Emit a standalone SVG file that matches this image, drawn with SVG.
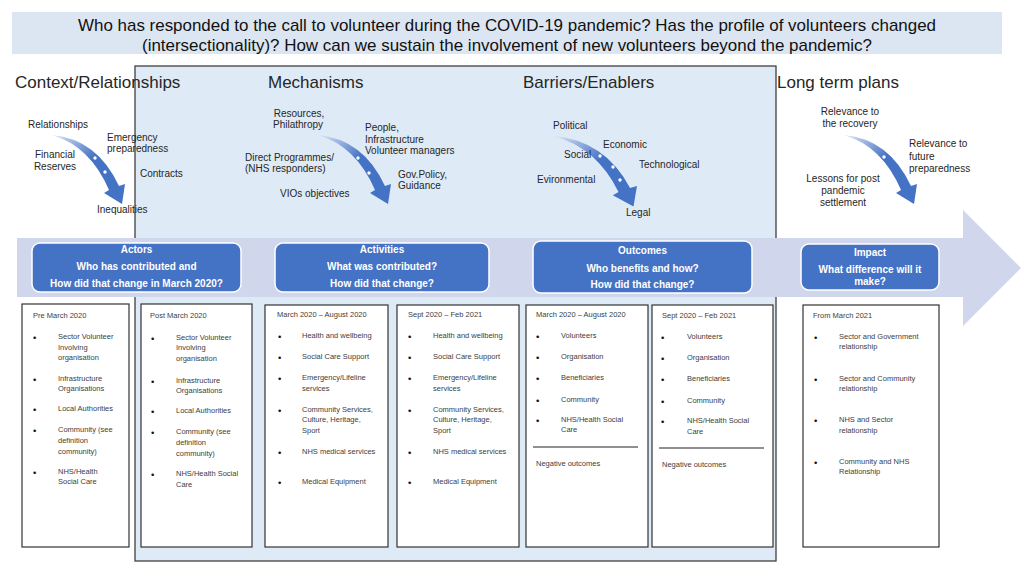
<svg xmlns="http://www.w3.org/2000/svg" xmlns:xlink="http://www.w3.org/1999/xlink" width="1024" height="572" viewBox="0 0 1024 572">
<style>
.h{font-family:"Liberation Sans",Arial,sans-serif;font-size:17px;fill:#262626}
.t{font-family:"Liberation Sans Narrow","Liberation Sans",Arial,sans-serif;font-size:17px;fill:#111;text-anchor:middle}
.l{font-family:"Liberation Sans",Arial,sans-serif;font-size:10px;fill:#262626}
.c{text-anchor:middle}
.b{font-family:"Liberation Sans",Arial,sans-serif;font-size:10px;font-weight:bold;fill:#fff;text-anchor:middle}
.s{font-family:"Liberation Sans",Arial,sans-serif;font-size:7.5px;fill:#404040}
.d{font-family:"Liberation Sans",Arial,sans-serif;font-size:9.5px;fill:#111}
.box{fill:#fff;stroke:#333;stroke-width:1.2}
.bb{fill:#4472C4;stroke:#fff;stroke-width:1.5}
.dot{fill:#fff}
</style>
<defs>
<linearGradient id="ag" x1="0" y1="0" x2="1" y2="1">
<stop offset="0" stop-color="#dfe7f6"/>
<stop offset="0.45" stop-color="#4472C4"/>
<stop offset="1" stop-color="#4472C4"/>
</linearGradient>
<path id="carrow" d="M0,0 Q45,4 67,51 L73,49 L70,69 L52,58 L57,55 Q38,11 0,0 Z" fill="url(#ag)"/>
</defs>

<g id="title">
<rect x="12" y="12" width="990" height="42" fill="#DCE6F2"/>
<text class="t" x="507" y="31" textLength="858" lengthAdjust="spacingAndGlyphs">Who has responded to the call to volunteer during the COVID-19 pandemic? Has the profile of volunteers changed</text>
<text class="t" x="507" y="51" textLength="730" lengthAdjust="spacingAndGlyphs">(intersectionality)? How can we sustain the involvement of new volunteers beyond the pandemic?</text>
</g>

<g id="panel">
<rect x="135" y="66" width="641" height="495" fill="#DEEAF6" stroke="#404040" stroke-width="1.3"/>
</g>

<g id="timeline">
<path d="M17,238 H963 V210 L1021,268 L963,326 V297 H17 Z" fill="#D0D6EB"/>
</g>

<g id="headings">
<text class="h" x="15" y="88">Context/Relationships</text>
<text class="h" x="268" y="88">Mechanisms</text>
<text class="h" x="523" y="88">Barriers/Enablers</text>
<text class="h" x="777" y="88">Long term plans</text>
</g>

<g id="connectors">
<use xlink:href="#carrow" href="#carrow" transform="translate(52,135)"/>
<circle class="dot" cx="95" cy="158" r="1.7"/><circle class="dot" cx="105" cy="172" r="1.7"/>
<use xlink:href="#carrow" href="#carrow" transform="translate(318,135)"/>
<circle class="dot" cx="358" cy="158" r="1.7"/><circle class="dot" cx="369" cy="173" r="1.7"/>
<use xlink:href="#carrow" href="#carrow" transform="translate(553,136) scale(1.15,1.02)"/>
<circle class="dot" cx="600" cy="156" r="1.7"/><circle class="dot" cx="613" cy="167" r="1.7"/><circle class="dot" cx="620" cy="180" r="1.7"/>
<use xlink:href="#carrow" href="#carrow" transform="translate(844,135)"/>
<circle class="dot" cx="884" cy="157" r="1.7"/>
</g>

<g id="context-labels">
<text class="l" x="28" y="128">Relationships</text>
<text class="l" x="107" y="141">Emergency</text>
<text class="l" x="107" y="152">preparedness</text>
<text class="l c" x="55" y="158">Financial</text>
<text class="l c" x="55" y="170">Reserves</text>
<text class="l" x="140" y="177">Contracts</text>
<text class="l" x="97" y="213">Inequalities</text>
</g>

<g id="mechanism-labels">
<text class="l c" x="299" y="117">Resources,</text>
<text class="l c" x="298" y="128">Philathropy</text>
<text class="l" x="365" y="131">People,</text>
<text class="l" x="365" y="143">Infrastructure</text>
<text class="l" x="365" y="154">Volunteer managers</text>
<text class="l" x="245" y="161">Direct Programmes/</text>
<text class="l" x="245" y="172">(NHS responders)</text>
<text class="l" x="398" y="178">Gov.Policy,</text>
<text class="l" x="398" y="189">Guidance</text>
<text class="l" x="280" y="197">VIOs objectives</text>
</g>

<g id="barrier-labels">
<text class="l" x="553" y="129">Political</text>
<text class="l" x="603" y="148">Economic</text>
<text class="l" x="564" y="158">Social</text>
<text class="l" x="639" y="168">Technological</text>
<text class="l" x="537" y="183">Evironmental</text>
<text class="l" x="626" y="216">Legal</text>
</g>

<g id="longterm-labels">
<text class="l c" x="850" y="115">Relevance to</text>
<text class="l c" x="850" y="127">the recovery</text>
<text class="l" x="909" y="147">Relevance to</text>
<text class="l" x="909" y="160">future</text>
<text class="l" x="909" y="172">preparedness</text>
<text class="l c" x="843" y="182">Lessons for post</text>
<text class="l c" x="843" y="194">pandemic</text>
<text class="l c" x="843" y="206">settlement</text>
</g>

<g id="actors">
<rect class="bb" x="32" y="243" width="209" height="49" rx="8"/>
<text class="b" x="136.5" y="253">Actors</text>
<text class="b" x="136.5" y="270">Who has contributed and</text>
<text class="b" x="136.5" y="287">How did that change in March 2020?</text>
</g>
<g id="activities">
<rect class="bb" x="275" y="243" width="214" height="49" rx="8"/>
<text class="b" x="382" y="253">Activities</text>
<text class="b" x="382" y="270">What was contributed?</text>
<text class="b" x="382" y="287">How did that change?</text>
</g>
<g id="outcomes">
<rect class="bb" x="533" y="241" width="219" height="52" rx="8"/>
<text class="b" x="642.5" y="254">Outcomes</text>
<text class="b" x="642.5" y="272">Who benefits and how?</text>
<text class="b" x="642.5" y="288">How did that change?</text>
</g>
<g id="impact">
<rect class="bb" x="801" y="244" width="138" height="46" rx="8"/>
<text class="b" x="870" y="256">Impact</text>
<text class="b" x="870" y="273">What difference will it</text>
<text class="b" x="870" y="285">make?</text>
</g>

<g id="pre-march-2020">
<rect class="box" x="22" y="304" width="107" height="243"/>
<text class="s" x="33" y="318">Pre March 2020</text>
<text class="d" x="33" y="341">•</text><text class="s" x="58" y="339">Sector Volunteer</text>
<text class="s" x="58" y="350">Involving</text><text class="s" x="58" y="360">organisation</text>
<text class="d" x="33" y="383">•</text><text class="s" x="58" y="381">Infrastructure</text>
<text class="s" x="58" y="391">Organisations</text>
<text class="d" x="33" y="413">•</text><text class="s" x="58" y="411">Local Authorities</text>
<text class="d" x="33" y="434">•</text><text class="s" x="58" y="432">Community (see</text>
<text class="s" x="58" y="443">definition</text><text class="s" x="58" y="454">community)</text>
<text class="d" x="33" y="476">•</text><text class="s" x="58" y="474">NHS/Health</text>
<text class="s" x="58" y="484">Social Care</text>
</g>

<g id="post-march-2020">
<rect class="box" x="141" y="304" width="111" height="243"/>
<text class="s" x="150" y="318">Post March 2020</text>
<text class="d" x="151" y="342">•</text><text class="s" x="176" y="340">Sector Volunteer</text>
<text class="s" x="176" y="350">Involving</text><text class="s" x="176" y="361">organisation</text>
<text class="d" x="151" y="385">•</text><text class="s" x="176" y="383">Infrastructure</text>
<text class="s" x="176" y="393">Organisations</text>
<text class="d" x="151" y="415">•</text><text class="s" x="176" y="413">Local Authorities</text>
<text class="d" x="151" y="436">•</text><text class="s" x="176" y="434">Community (see</text>
<text class="s" x="176" y="445">definition</text><text class="s" x="176" y="456">community)</text>
<text class="d" x="151" y="478">•</text><text class="s" x="176" y="476">NHS/Health Social</text>
<text class="s" x="176" y="487">Care</text>
</g>

<g id="activities-mar-aug-2020">
<rect class="box" x="265" y="305" width="123" height="242"/>
<text class="s" x="277" y="317">March 2020 – August 2020</text>
<text class="d" x="278" y="340">•</text><text class="s" x="302" y="338">Health and wellbeing</text>
<text class="d" x="278" y="361">•</text><text class="s" x="302" y="359">Social Care Support</text>
<text class="d" x="278" y="382">•</text><text class="s" x="302" y="380">Emergency/Lifeline</text>
<text class="s" x="302" y="391">services</text>
<text class="d" x="278" y="414">•</text><text class="s" x="302" y="412">Community Services,</text>
<text class="s" x="302" y="422">Culture, Heritage,</text><text class="s" x="302" y="433">Sport</text>
<text class="d" x="278" y="456">•</text><text class="s" x="302" y="454">NHS medical services</text>
<text class="d" x="278" y="486">•</text><text class="s" x="302" y="484">Medical Equipment</text>
</g>

<g id="activities-sep-feb-2021">
<rect class="box" x="397" y="305" width="122" height="242"/>
<text class="s" x="408" y="317">Sept 2020 – Feb 2021</text>
<text class="d" x="408" y="340">•</text><text class="s" x="433" y="338">Health and wellbeing</text>
<text class="d" x="408" y="361">•</text><text class="s" x="433" y="359">Social Care Support</text>
<text class="d" x="408" y="382">•</text><text class="s" x="433" y="380">Emergency/Lifeline</text>
<text class="s" x="433" y="391">services</text>
<text class="d" x="408" y="414">•</text><text class="s" x="433" y="412">Community Services,</text>
<text class="s" x="433" y="422">Culture, Heritage,</text><text class="s" x="433" y="433">Sport</text>
<text class="d" x="408" y="456">•</text><text class="s" x="433" y="454">NHS medical services</text>
<text class="d" x="408" y="486">•</text><text class="s" x="433" y="484">Medical Equipment</text>
</g>

<g id="outcomes-mar-aug-2020">
<rect class="box" x="526" y="305" width="122" height="242"/>
<text class="s" x="536" y="317">March 2020 – August 2020</text>
<text class="d" x="536" y="340">•</text><text class="s" x="561" y="338">Volunteers</text>
<text class="d" x="536" y="361">•</text><text class="s" x="561" y="359">Organisation</text>
<text class="d" x="536" y="382">•</text><text class="s" x="561" y="380">Beneficiaries</text>
<text class="d" x="536" y="404">•</text><text class="s" x="561" y="402">Community</text>
<text class="d" x="536" y="424">•</text><text class="s" x="561" y="422">NHS/Health Social</text>
<text class="s" x="561" y="432">Care</text>
<line x1="533" y1="447" x2="638" y2="447" stroke="#222" stroke-width="1"/>
<text class="s" x="536" y="466">Negative outcomes</text>
</g>

<g id="outcomes-sep-feb-2021">
<rect class="box" x="652" y="305" width="121" height="242"/>
<text class="s" x="662" y="318">Sept 2020 – Feb 2021</text>
<text class="d" x="661" y="341">•</text><text class="s" x="687" y="339">Volunteers</text>
<text class="d" x="661" y="362">•</text><text class="s" x="687" y="360">Organisation</text>
<text class="d" x="661" y="383">•</text><text class="s" x="687" y="381">Beneficiaries</text>
<text class="d" x="661" y="405">•</text><text class="s" x="687" y="403">Community</text>
<text class="d" x="661" y="425">•</text><text class="s" x="687" y="423">NHS/Health Social</text>
<text class="s" x="687" y="434">Care</text>
<line x1="659" y1="448" x2="764" y2="448" stroke="#222" stroke-width="1"/>
<text class="s" x="662" y="467">Negative outcomes</text>
</g>

<g id="from-march-2021">
<rect class="box" x="803" y="305" width="136" height="242"/>
<text class="s" x="813" y="318">From March 2021</text>
<text class="d" x="814" y="341">•</text><text class="s" x="839" y="339">Sector and Government</text>
<text class="s" x="839" y="349">relationship</text>
<text class="d" x="814" y="383">•</text><text class="s" x="839" y="381">Sector and Community</text>
<text class="s" x="839" y="391">relationship</text>
<text class="d" x="814" y="424">•</text><text class="s" x="839" y="422">NHS and Sector</text>
<text class="s" x="839" y="433">relationship</text>
<text class="d" x="814" y="466">•</text><text class="s" x="839" y="464">Community and NHS</text>
<text class="s" x="839" y="474">Relationship</text>
</g>
</svg>
